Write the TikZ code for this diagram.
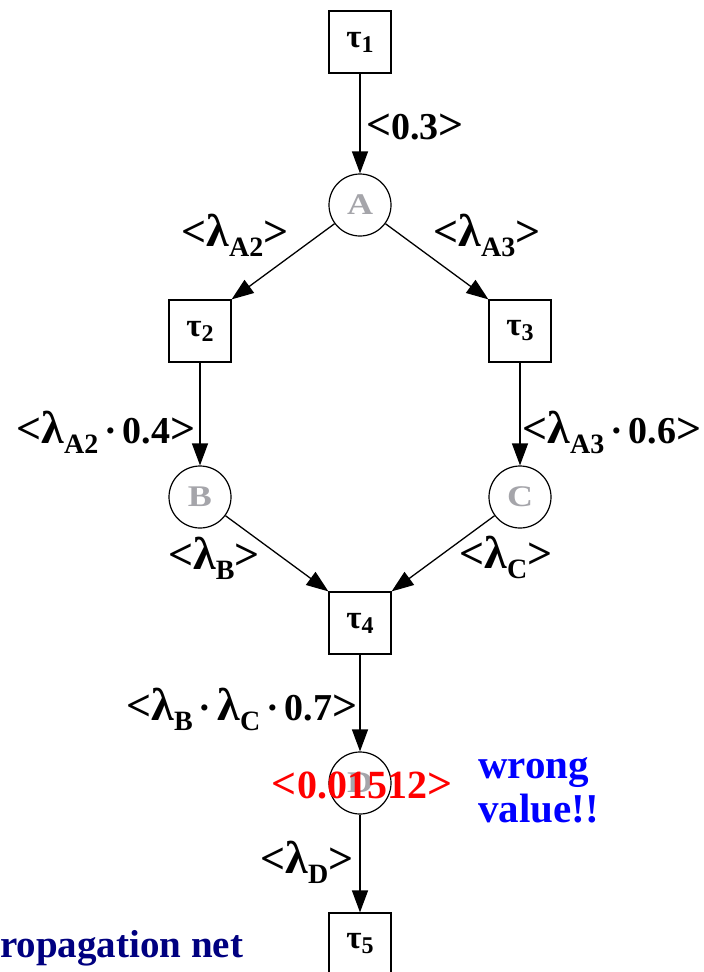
\documentclass[tikz,border=0pt]{standalone}
\usepackage{fontspec}
\setmainfont{Liberation Serif}
\newfontfamily\labfont{Liberation Serif}[FakeStretch=1.2]
\usetikzlibrary{arrows.meta}
\definecolor{circgray}{RGB}{165,165,170}
\definecolor{navyc}{RGB}{0,0,128}
\definecolor{bluec}{RGB}{0,0,255}
\definecolor{redc}{RGB}{255,0,0}
\newcommand\lsb[1]{\raisebox{-10pt}{\fontsize{28}{28}\selectfont #1}}
\newcommand\tsb[1]{\raisebox{-5pt}{\fontsize{24}{24}\selectfont #1}}
\newcommand\lam{{\fontsize{46}{46}\selectfont λ}}
\newcommand\lft{{\fontsize{44}{44}\selectfont <}}
\newcommand\rgt{{\fontsize{44}{44}\selectfont >}}
\newcommand\cdt{\hspace{6pt}·\hspace{6pt}}
\begin{document}
\begin{tikzpicture}[x=1pt,y=-1pt,
 trans/.style={draw,line width=1.2pt,minimum size=62pt,inner sep=0pt,font=\fontsize{33}{33}\selectfont\bfseries},
 place/.style={draw,circle,line width=1.2pt,minimum size=62pt,inner sep=0pt,text=circgray,font=\labfont\fontsize{30}{30}\selectfont\bfseries},
 arc/.style={line width=1.3pt,-{Triangle[length=22pt,width=16pt]}},
 lab/.style={anchor=base,inner sep=0pt,font=\fontsize{38}{38}\selectfont\bfseries},
 redlab/.style={anchor=base,inner sep=0pt,text=redc,font=\fontsize{40}{40}\selectfont\bfseries},
 bluelab/.style={anchor=base west,inner sep=0pt,text=bluec,font=\fontsize{41}{41}\selectfont\bfseries},
 navylab/.style={anchor=base west,inner sep=0pt,text=navyc,font=\fontsize{39}{39}\selectfont\bfseries},
]
\clip (0,0) rectangle (704,972);
\fill[white] (0,0) rectangle (704,972);
% transitions
\node[trans] (t1) at (360,42) {τ\tsb{1}};
\node[trans] (t2) at (200,331) {τ\tsb{2}};
\node[trans] (t3) at (520,331) {τ\tsb{3}};
\node[trans] (t4) at (360,623) {τ\tsb{4}};
\node[trans] (t5) at (360,944) {τ\tsb{5}};
% places
\node[place] (A) at (360,205) {A};
\node[place] (B) at (200,497) {B};
\node[place] (C) at (520,497) {C};
\node[place] (D) at (360,783) {D};
% arcs
\draw[arc] (t1) -- (A);
\draw[arc] (A) -- (t2.north east);
\draw[arc] (A) -- (t3.north west);
\draw[arc] (t2) -- (B);
\draw[arc] (t3) -- (C);
\draw[arc] (B) -- (t4.north west);
\draw[arc] (C) -- (t4.north east);
\draw[arc] (t4) -- (D);
\draw[arc] (D) -- (t5);
% labels
\node[lab] (l03) at (415,139) {\lft0.3\rgt};
\node[lab] (lA2) at (235,246) {\lft\lam\lsb{A2}\rgt};
\node[lab] (lA3) at (487,246) {\lft\lam\lsb{A3}\rgt};
\node[lab] (lA2b) at (106,443) {\lft\lam\lsb{A2}\cdt0.4\rgt};
\node[lab] (lA3b) at (612,443) {\lft\lam\lsb{A3}\cdt0.6\rgt};
\node[lab] (lB) at (214,569) {\lft\lam\lsb{B}\rgt};
\node[lab] (lC) at (506,568) {\lft\lam\lsb{C}\rgt};
\node[lab] (lBC) at (242,720) {\lft\lam\lsb{B}\cdt\lam\lsb{C}\cdt0.7\rgt};
\node[lab] (lD) at (307,873) {\lft\lam\lsb{D}\rgt};
\node[redlab] (lred) at (362,798) {\lft0.01512\rgt};
\node[bluelab] (w1) at (478,778) {wrong};
\node[bluelab] (w2) at (478,822) {value!!};
\node[navylab] (nav) at (0,957) {ropagation net};
\end{tikzpicture}
\end{document}
